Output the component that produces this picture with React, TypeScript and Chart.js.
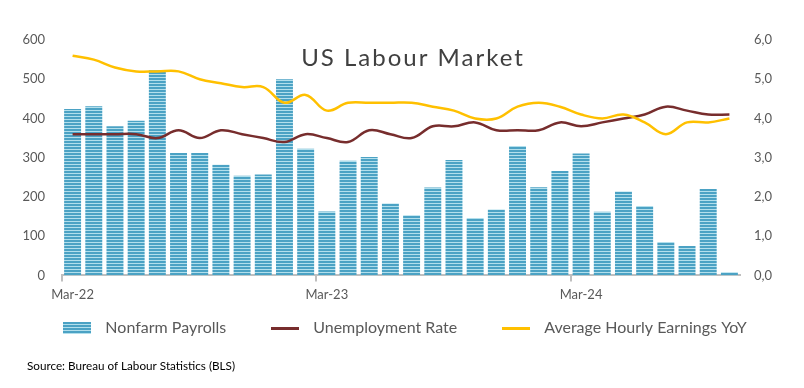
import React, { useEffect, useRef } from "react";
import { Chart, registerables } from "chart.js";

Chart.register(...registerables);

const categories = [
  "Mar-22", "Apr-22", "May-22", "Jun-22", "Jul-22", "Aug-22", "Sep-22", "Oct-22", "Nov-22", "Dec-22",
  "Jan-23", "Feb-23", "Mar-23", "Apr-23", "May-23", "Jun-23", "Jul-23", "Aug-23", "Sep-23", "Oct-23",
  "Nov-23", "Dec-23", "Jan-24", "Feb-24", "Mar-24", "Apr-24", "May-24", "Jun-24", "Jul-24", "Aug-24",
  "Sep-24", "Oct-24",
];

const nonfarmPayrolls = [
  424, 431, 380, 394, 523, 312, 312, 282, 254, 257,
  500, 323, 163, 292, 302, 183, 153, 224, 294, 146,
  168, 330, 225, 266, 311, 162, 214, 177, 85, 75,
  220, 8,
];

const unemploymentRate = [
  3.6, 3.6, 3.6, 3.6, 3.5, 3.7, 3.5, 3.7, 3.6, 3.5,
  3.4, 3.6, 3.5, 3.4, 3.7, 3.6, 3.5, 3.8, 3.8, 3.9,
  3.7, 3.7, 3.7, 3.9, 3.8, 3.9, 4.0, 4.1, 4.3, 4.2,
  4.1, 4.1,
];

const hourlyEarningsYoY = [
  5.6, 5.5, 5.3, 5.2, 5.2, 5.2, 5.0, 4.9, 4.8, 4.8,
  4.4, 4.6, 4.2, 4.4, 4.4, 4.4, 4.4, 4.3, 4.2, 4.0,
  4.0, 4.3, 4.4, 4.3, 4.1, 4.0, 4.1, 3.9, 3.6, 3.9,
  3.9, 4.0,
];

const leftTicks = { min: 0, max: 600, step: 100 };
const rightTicks = { min: 0, max: 6, step: 1 };

const TITLE = "US Labour Market";
const SOURCE = "Source: Bureau of Labour Statistics (BLS)";
const SERIES_NAMES = ["Nonfarm Payrolls", "Unemployment Rate", "Average Hourly Earnings YoY"];

const BAR_DARK = "#4BA2C4";
const BAR_LIGHT = "#B2DFEC";
const RED = "#772D2D";
const YELLOW = "#FFC000";
const TEXT = "#595959";
const AXIS = "#BFBFBF";
const FONT = "Lato, 'Open Sans', sans-serif";

function makeStripe(): CanvasPattern | string {
  const c = document.createElement("canvas");
  c.width = 4;
  c.height = 3;
  const g = c.getContext("2d");
  if (!g) return BAR_DARK;
  g.fillStyle = BAR_DARK;
  g.fillRect(0, 0, 4, 2);
  g.fillStyle = BAR_LIGHT;
  g.fillRect(0, 2, 4, 1);
  const p = g.createPattern(c, "repeat");
  return p || BAR_DARK;
}

function markerCanvas(kind: "bar" | "line", color: string) {
  const c = document.createElement("canvas");
  c.width = 28;
  c.height = kind === "bar" ? 12 : 3;
  const g = c.getContext("2d");
  if (g) {
    if (kind === "bar") {
      for (let y = 0; y < 12; y++) {
        g.fillStyle = y % 3 === 2 ? BAR_LIGHT : BAR_DARK;
        g.fillRect(0, y, 28, 1);
      }
    } else {
      g.fillStyle = color;
      g.fillRect(0, 0, 28, 3);
    }
  }
  return c;
}

const legendShift = {
  id: "legendShift",
  afterLayout(chart: any) {
    const lg = chart.legend;
    if (lg) {
      lg.top -= 28;
      lg.bottom -= 28;
    }
  },
};

const overlayText = {
  id: "overlayText",
  afterDraw(chart: any) {
    const { ctx, chartArea } = chart;
    ctx.save();
    ctx.fillStyle = "#404040";
    ctx.font = `24px ${FONT}`;
    (ctx as any).letterSpacing = "2px";
    ctx.textAlign = "center";
    ctx.textBaseline = "middle";
    ctx.fillText(TITLE, (chartArea.left + chartArea.right) / 2 + 12, 58);
    (ctx as any).letterSpacing = "0px";
    ctx.fillStyle = "#000000";
    ctx.font = `11.7px ${FONT}`;
    ctx.textAlign = "left";
    ctx.fillText(SOURCE, 27, 366);
    ctx.restore();
  },
};

export default function App() {
  const ref = useRef<HTMLCanvasElement | null>(null);

  useEffect(() => {
    document.body.style.margin = "0";
    const canvas = ref.current;
    if (!canvas) return;
    const stripe = makeStripe();
    const markers = [markerCanvas("bar", BAR_DARK), markerCanvas("line", RED), markerCanvas("line", YELLOW)];

    const chart = new Chart(canvas, {
      type: "bar",
      data: {
        labels: categories,
        datasets: [
          {
            type: "bar",
            label: SERIES_NAMES[0],
            data: nonfarmPayrolls,
            backgroundColor: stripe as any,
            borderWidth: 0,
            barPercentage: 0.8,
            categoryPercentage: 1,
            yAxisID: "y",
            order: 2,
            pointStyle: markers[0] as any,
          },
          {
            type: "line",
            label: SERIES_NAMES[1],
            data: unemploymentRate,
            borderColor: RED,
            backgroundColor: RED,
            borderWidth: 2.5,
            pointRadius: 0,
            tension: 0.4,
            yAxisID: "y1",
            order: 1,
            pointStyle: markers[1] as any,
          },
          {
            type: "line",
            label: SERIES_NAMES[2],
            data: hourlyEarningsYoY,
            borderColor: YELLOW,
            backgroundColor: YELLOW,
            borderWidth: 2.5,
            pointRadius: 0,
            tension: 0.4,
            yAxisID: "y1",
            order: 0,
            pointStyle: markers[2] as any,
          },
        ],
      },
      options: {
        animation: false,
        responsive: false,
        maintainAspectRatio: false,
        layout: { padding: { top: 40, left: 0, right: 0, bottom: 14 } },
        plugins: {
          title: { display: false },
          tooltip: { enabled: false },
          legend: {
            display: true,
            position: "bottom",
            labels: {
              usePointStyle: true,
              pointStyleWidth: 40,
              padding: 39,
              color: TEXT,
              font: { family: FONT, size: 16 },
              sort: (a: any, b: any) => a.datasetIndex - b.datasetIndex,
            },
          },
        },
        scales: {
          x: {
            offset: true,
            grid: {
              display: true,
              offset: true,
              drawOnChartArea: false,
              drawTicks: true,
              tickLength: 6,
              lineWidth: 2,
              color: (c: any) => (c.index % 12 === 0 ? AXIS : "rgba(0,0,0,0)"),
              tickColor: (c: any) => (c.index % 12 === 0 ? AXIS : "rgba(0,0,0,0)"),
            },
            border: { display: true, color: AXIS, width: 2 },
            ticks: {
              autoSkip: false,
              maxRotation: 0,
              padding: 6,
              color: TEXT,
              font: { family: FONT, size: 13 },
              callback: (_v: any, i: number) => (i % 12 === 0 ? categories[i] : ""),
            },
          },
          y: {
            position: "left",
            min: leftTicks.min,
            max: leftTicks.max,
            afterFit: (s: any) => {
              s.width = 62;
            },
            grid: { display: false },
            border: { display: false },
            ticks: {
              stepSize: leftTicks.step,
              padding: 9,
              color: TEXT,
              font: { family: FONT, size: 13 },
            },
          },
          y1: {
            position: "right",
            min: rightTicks.min,
            max: rightTicks.max,
            afterFit: (s: any) => {
              s.width = 64;
            },
            grid: { display: false },
            border: { display: false },
            ticks: {
              stepSize: rightTicks.step,
              padding: 6,
              color: TEXT,
              font: { family: FONT, size: 13 },
              callback: (v: any) => Number(v).toFixed(1).replace(".", ","),
            },
          },
        },
      },
      plugins: [legendShift, overlayText],
    });
    return () => chart.destroy();
  }, []);

  return (
    <div style={{ width: 804, height: 388, background: "#fff" }}>
      <canvas ref={ref} width={804} height={388} style={{ display: "block" }} />
    </div>
  );
}
